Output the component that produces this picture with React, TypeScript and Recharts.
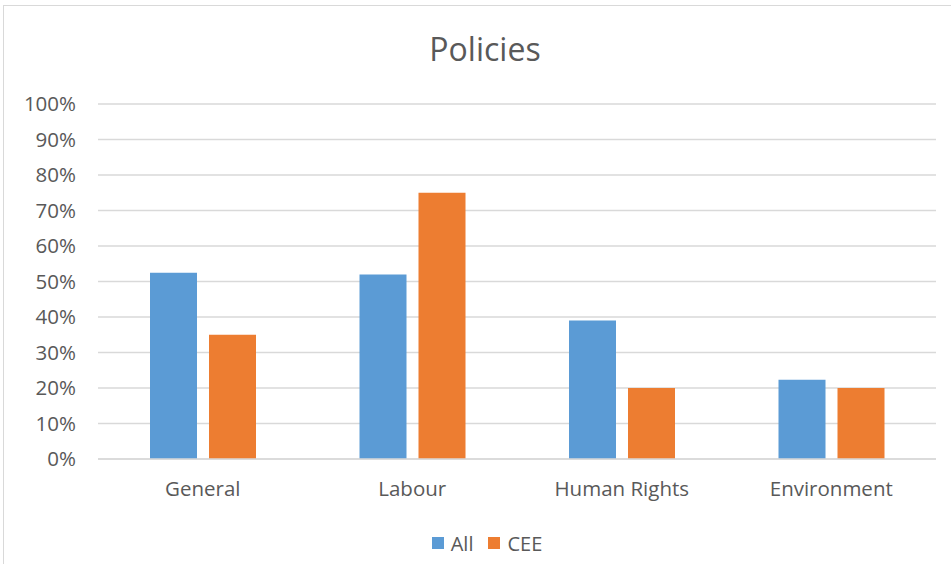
import { BarChart, Bar, XAxis, YAxis, CartesianGrid, Legend } from "recharts";

const categories = ["General", "Labour", "Human Rights", "Environment"];
const allValues = [0.525, 0.52, 0.39, 0.223];
const ceeValues = [0.35, 0.75, 0.2, 0.2];
const yTicks = [0, 0.1, 0.2, 0.3, 0.4, 0.5, 0.6, 0.7, 0.8, 0.9, 1];

const data = categories.map((name, i) => ({ name, all: allValues[i], cee: ceeValues[i] }));

const FONT = "'Open Sans', sans-serif";
const TEXT = "#595959";
const BLUE = "#5B9BD5";
const ORANGE = "#ED7D31";

function LegendContent() {
  const items = [
    { label: "All", color: BLUE },
    { label: "CEE", color: ORANGE },
  ];
  return (
    <div style={{ height: 30, display: "flex", alignItems: "center", justifyContent: "center", gap: 15 }}>
      {items.map((it) => (
        <div key={it.label} style={{ display: "flex", alignItems: "center", gap: 7 }}>
          <div style={{ width: 12, height: 12, background: it.color }} />
          <span style={{ fontFamily: FONT, fontSize: 20, color: TEXT }}>{it.label}</span>
        </div>
      ))}
    </div>
  );
}

export default function App() {
  return (
    <div style={{ position: "absolute", left: 0, top: 0, width: 951, height: 564, overflow: "hidden", background: "#fff" }}>
      <div style={{ position: "absolute", left: 3, top: 5, width: 1000, height: 600, border: "1px solid #d9d9d9" }} />
      <div
        style={{
          position: "absolute",
          left: 385,
          width: 200,
          top: 27,
          textAlign: "center",
          fontFamily: FONT,
          fontSize: 32,
          color: TEXT,
          lineHeight: "44px",
        }}
      >
        Policies
      </div>
      <div style={{ position: "absolute", left: 0, top: 0 }}>
        <BarChart
          width={951}
          height={564}
          data={data}
          margin={{ top: 104, right: 15, bottom: 6, left: 38 }}
          barSize={47}
          barGap={12}
        >
          <CartesianGrid vertical={false} stroke="#d9d9d9" strokeWidth={1.3} />
          <XAxis
            dataKey="name"
            height={69}
            tickSize={0}
            tickMargin={22}
            axisLine={{ stroke: "#d9d9d9", strokeWidth: 1.3 }}
            tickLine={false}
            tick={{ fill: TEXT, fontSize: 20.5, fontFamily: FONT }}
          />
          <YAxis
            width={60}
            domain={[0, 1]}
            ticks={yTicks}
            interval={0}
            tickSize={0}
            tickMargin={22}
            axisLine={false}
            tickLine={false}
            tickFormatter={(v: number) => `${Math.round(v * 100)}%`}
            tick={{ fill: TEXT, fontSize: 20.5, fontFamily: FONT }}
          />
          <Legend verticalAlign="bottom" height={30} content={() => <LegendContent />} />
          <Bar dataKey="all" name="All" fill={BLUE} isAnimationActive={false} />
          <Bar dataKey="cee" name="CEE" fill={ORANGE} isAnimationActive={false} />
        </BarChart>
      </div>
    </div>
  );
}
